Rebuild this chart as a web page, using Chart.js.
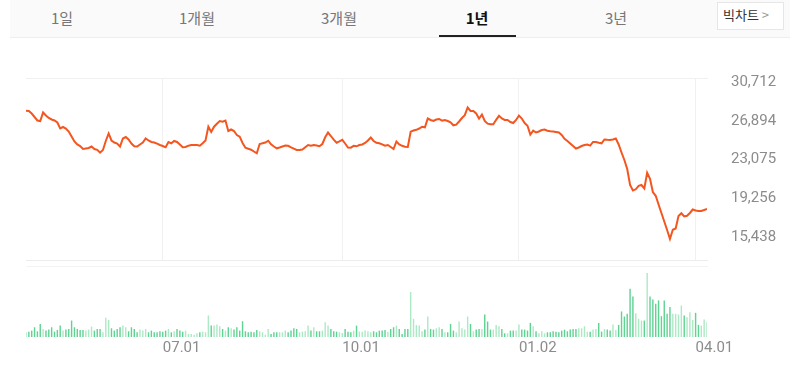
<!DOCTYPE html>
<html>
<head>
<meta charset="utf-8">
<script src="https://cdn.jsdelivr.net/npm/chart.js@4.4.1/dist/chart.umd.min.js"></script>
<style>
  body { margin: 0; width: 801px; height: 377px; overflow: hidden; background: #fff; position: relative; }
  .tabs { position: absolute; left: 10px; top: 0; width: 780px; height: 37px; background: #fafafa; border-bottom: 1px solid #eee; }
  .tab { position: absolute; top: 7px; transform: translateX(-50%); font: 15px 'Noto Sans CJK KR', sans-serif; color: #777; white-space: nowrap; }
  .tab.on { color: #111; font-weight: bold; }
  .bar-on { position: absolute; left: 439px; top: 35px; width: 77px; height: 2px; background: #222; }
  .big { position: absolute; left: 717px; top: 2px; width: 67px; height: 28px; background: #fff; border: 1px solid #e6e6e6; box-sizing: border-box;
         font: 13px 'Noto Sans CJK KR', sans-serif; color: #333; line-height: 24px; padding-left: 5px; }
  canvas { position: absolute; left: 0; }
  #price { top: 40px; }
  #vol { top: 262px; }
</style>
</head>
<body>
<div class="tabs"></div>
<div class="tab" style="left:62px">1일</div>
<div class="tab" style="left:197px">1개월</div>
<div class="tab" style="left:339px">3개월</div>
<div class="tab on" style="left:477px">1년</div>
<div class="tab" style="left:616px">3년</div>
<div class="bar-on"></div>
<div class="big">빅차트 <span style="color:#999">&gt;</span></div>
<canvas id="vol" width="801" height="115"></canvas>
<canvas id="price" width="801" height="253"></canvas>
<script>
// closing prices, one per trading day (oldest first)
var prices = [
  27888, 27859, 27613, 27268, 26924, 26875, 27711, 27416, 27170, 27022,
  26924, 26727, 26137, 26284, 26137, 25841, 25349, 24857, 24562, 24415,
  24119, 24169, 24218, 24365, 24119, 24041, 23755, 24021, 24907, 25645,
  24956, 24759, 24661, 24365, 25153, 25300, 25054, 24661, 24395, 24365,
  24562, 24759, 25153, 24956, 24808, 24759, 24641, 24513, 24415, 24287,
  24808, 24680, 24907, 24808, 24562, 24287, 24316, 24444, 24513, 24513,
  24513, 24444, 24680, 24956, 26314, 25792, 26314, 26609, 26875, 26806,
  26924, 25891, 26038, 25891, 25497, 25330, 24710, 24247, 24149, 24051,
  23873, 23696, 24611, 24680, 24759, 24936, 24582, 24365, 24188, 24267,
  24365, 24464, 24434, 24287, 24149, 24021, 24021, 24070, 24287, 24513,
  24434, 24513, 24464, 24395, 24611, 25271, 25743, 25399, 25035, 24739,
  24877, 25025, 24661, 24267, 24247, 24434, 24385, 24513, 24562, 24710,
  24956, 25251, 24907, 24729, 24690, 24582, 24444, 24513, 24316, 24119,
  24857, 24562, 24434, 24346, 24316, 25822, 25940, 26009, 26137, 26314,
  26255, 27121, 26973, 26875, 27022, 27071, 26904, 26973, 26875, 26747,
  26451, 26511, 26825, 27170, 27445, 28203, 27859, 27859, 27613, 27101,
  27514, 26875, 26609, 26550, 26550, 26993, 27386, 27121, 26973, 26973,
  26776, 26678, 26973, 27416, 27121, 26678, 26412, 25546, 25920, 25743,
  25841, 25989, 26038, 25920, 25871, 25841, 25802, 25743, 25497, 25123,
  24907, 24661, 24415, 24169, 24267, 24415, 24513, 24562, 24454, 24808,
  24808, 24729, 24680, 25054, 25025, 25005, 25054, 25153, 24562, 23775,
  23037, 22151, 20577, 20036, 20154, 20498, 20577, 20233, 21787, 21197,
  19888, 19514, 18658, 17822, 16985, 16149, 15263, 16169, 16297, 17527,
  17792, 17477, 17546, 17822, 18166, 18068, 18019, 18019, 18117, 18215
];

// traded volume per day
var volumes = [
  14000, 16000, 19000, 29000, 17000, 39000, 24000, 19000, 22000, 29000,
  16000, 21000, 34000, 19000, 22000, 24000, 49000, 29000, 24000, 21000,
  21000, 19000, 22000, 31000, 19000, 24000, 24000, 14000, 57000, 51000,
  26000, 19000, 24000, 29000, 34000, 29000, 17000, 29000, 24000, 14000,
  22000, 19000, 24000, 14000, 19000, 14000, 14000, 17000, 16000, 19000,
  24000, 14000, 17000, 24000, 19000, 16000, 19000, 9000, 9000, 7000,
  11000, 14000, 16000, 14000, 64000, 34000, 34000, 37000, 32000, 24000,
  19000, 29000, 26000, 22000, 29000, 19000, 47000, 17000, 14000, 16000,
  14000, 21000, 17000, 14000, 7000, 24000, 9000, 14000, 14000, 14000,
  14000, 19000, 14000, 19000, 26000, 24000, 14000, 16000, 17000, 34000,
  19000, 29000, 17000, 17000, 19000, 44000, 34000, 24000, 17000, 16000,
  14000, 12000, 24000, 16000, 14000, 19000, 34000, 16000, 16000, 19000,
  17000, 14000, 17000, 14000, 19000, 19000, 21000, 16000, 24000, 29000,
  34000, 24000, 9000, 24000, 24000, 134000, 54000, 36000, 34000, 17000,
  22000, 61000, 24000, 22000, 26000, 29000, 24000, 14000, 14000, 39000,
  19000, 14000, 46000, 26000, 22000, 61000, 39000, 17000, 22000, 24000,
  24000, 67000, 46000, 22000, 22000, 36000, 32000, 24000, 11000, 11000,
  19000, 19000, 19000, 37000, 22000, 22000, 19000, 42000, 32000, 17000,
  11000, 17000, 11000, 14000, 14000, 17000, 16000, 14000, 19000, 22000,
  17000, 22000, 24000, 24000, 26000, 26000, 32000, 16000, 16000, 22000,
  24000, 42000, 16000, 24000, 22000, 19000, 37000, 21000, 36000, 76000,
  61000, 69000, 144000, 121000, 71000, 54000, 49000, 49000, 191000, 121000,
  112000, 99000, 109000, 62000, 109000, 69000, 89000, 69000, 69000, 67000,
  94000, 64000, 59000, 74000, 51000, 72000, 36000, 34000, 52000, 44000
];

// x-axis: day index of each labelled month start
var tickIdx = [48, 111, 173, 235];
var tickLabels = ['07.01', '10.01', '01.02', '04.01'];
// right axis price labels
var priceTicks = [15438, 19256, 23075, 26894, 30712];
var priceMin = 13197, priceMax = 31106;

var points = prices.map(function (p, i) { return { x: i, y: p }; });
var volPoints = volumes.map(function (v, i) { return { x: i, y: v }; });
var lastIdx = prices.length - 1;

var labelFont = { family: 'Roboto', size: 15 };
var labelColor = '#8c8c8c';

function monthTicks(axis) {
  axis.ticks = tickIdx.map(function (v) { return { value: v }; });
}

new Chart(document.getElementById('price').getContext('2d'), {
  type: 'line',
  data: {
    datasets: [{
      data: points,
      borderColor: '#f4561f',
      borderWidth: 2,
      pointRadius: 0,
      tension: 0,
      fill: false
    }]
  },
  options: {
    responsive: false,
    animation: false,
    layout: { padding: { left: 26, top: 38, bottom: 33, right: 0 } },
    plugins: { legend: { display: false }, tooltip: { enabled: false } },
    scales: {
      x: {
        type: 'linear', min: 0, max: lastIdx,
        afterBuildTicks: monthTicks,
        grid: { color: '#f1f1f1', drawTicks: false },
        border: { color: '#ececec' },
        ticks: { display: false }
      },
      xTop: {
        type: 'linear', position: 'top', min: 0, max: lastIdx,
        grid: { display: false, drawTicks: false },
        border: { color: '#f0f0f0' },
        ticks: { display: false }
      },
      y: {
        position: 'right', min: priceMin, max: priceMax,
        afterBuildTicks: function (axis) {
          axis.ticks = priceTicks.map(function (v) { return { value: v }; });
        },
        afterFit: function (axis) { axis.width = 94; },
        grid: { display: false, drawTicks: false },
        border: { display: false },
        ticks: {
          padding: 24, color: labelColor, font: labelFont,
          callback: function (v) { return v.toLocaleString('en-US'); }
        }
      }
    }
  }
});

new Chart(document.getElementById('vol').getContext('2d'), {
  type: 'bar',
  data: {
    datasets: [{
      data: volPoints,
      backgroundColor: function (ctx) {
        var i = ctx.dataIndex;
        var up = i === 0 || prices[i] >= prices[i - 1];
        return up ? '#aee9c5' : '#5fd392';
      },
      categoryPercentage: 0.5,
      barPercentage: 1
    }]
  },
  options: {
    responsive: false,
    animation: false,
    layout: { padding: { left: 26, top: 4, bottom: 18, right: 94 } },
    plugins: { legend: { display: false }, tooltip: { enabled: false } },
    scales: {
      x: {
        type: 'linear', min: 0, max: lastIdx, offset: false,
        afterBuildTicks: monthTicks,
        grid: { display: false, drawTicks: false },
        border: { display: false },
        ticks: {
          padding: 2, color: labelColor, font: labelFont, align: 'start', maxRotation: 0,
          callback: function (v) { return tickLabels[tickIdx.indexOf(v)]; }
        }
      },
      xTop: {
        type: 'linear', position: 'top', min: 0, max: lastIdx,
        grid: { display: false, drawTicks: false },
        border: { color: '#f3f3f3' },
        ticks: { display: false }
      },
      y: {
        display: false, min: 0, max: 211500
      }
    }
  }
});
</script>
</body>
</html>
